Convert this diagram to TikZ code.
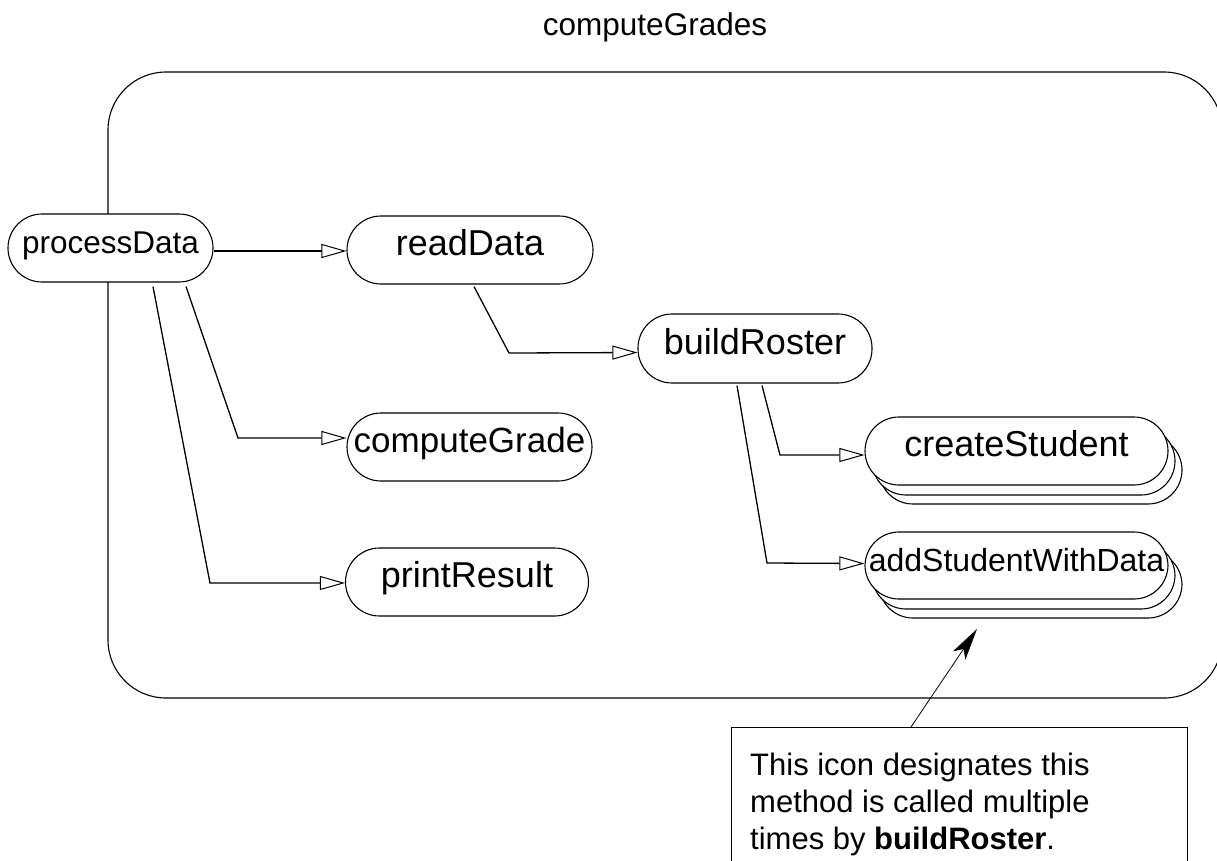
\documentclass[tikz,border=0pt]{standalone}
\usepackage{fontspec}
\setmainfont{Liberation Sans}
\usetikzlibrary{arrows.meta}

\tikzset{
  method/.style={draw, line width=1.1pt, fill=white, rounded corners=34pt,
    minimum height=68pt, inner sep=0pt, text height=11pt, text depth=0pt,
    font=\fontsize{36}{40}\selectfont},
  stackback/.style={draw, line width=1.1pt, fill=white, rounded corners=34pt,
    minimum height=68pt, minimum width=303pt, inner sep=0pt},
  conn/.style={line width=1.3pt,
    -{Triangle[length=25pt,width=14pt,fill=white,line width=1pt]}},
  pointer/.style={line width=0.8pt, -{Stealth[length=32pt,width=15pt,inset=8pt]}},
}

\begin{document}
\begin{tikzpicture}[x=1pt,y=-1pt]
\useasboundingbox (0,0) rectangle (1217,860);

% title
\node[font=\fontsize{31.5}{36}\selectfont] (title) at (655,27) {computeGrades};

% enclosing frame of computeGrades
\node[draw, line width=1.1pt, rounded corners=58pt, minimum width=1114pt,
  minimum height=626pt, inner sep=0pt] (frame) at (665,385) {};

% methods
\node[method, minimum width=205pt, font=\fontsize{31.5}{36}\selectfont] (pd) at (110.5,248) {processData};
\node[method, minimum width=246pt] (rd) at (470,250) {readData};
\node[method, minimum width=234pt, minimum height=69pt] (br) at (755,348.5) {buildRoster};
\node[method, minimum width=245pt, font=\fontsize{35}{40}\selectfont] (cg) at (469.5,447) {computeGrade};
\node[method, minimum width=243pt] (pr) at (467,582) {printResult};

% stacked icons: methods called multiple times
\node[stackback] (cs3) at (1030.5,470) {};
\node[stackback] (cs2) at (1023.5,461) {};
\node[method, minimum width=303pt] (cs) at (1016.5,451) {createStudent};
\node[stackback, minimum height=67pt] (as3) at (1030.5,584.5) {};
\node[stackback, minimum height=67pt] (as2) at (1023.5,575.5) {};
\node[method, minimum width=303pt, minimum height=67pt, font=\fontsize{32}{36}\selectfont] (as) at (1016.5,565.5) {addStudentWithData};

% calls
\draw[conn] ([yshift=-3pt]pd.east) -- ([yshift=-1pt]rd.west);
\draw[conn] ([xshift=4pt,yshift=-2pt]rd.south) -- (509,353) -- ([yshift=-4pt]br.west);
\draw[conn] ([xshift=75.5pt,yshift=-4pt]pd.south) -- (238,438) -- ([yshift=9pt]cg.west);
\draw[conn] ([xshift=42.5pt,yshift=-4pt]pd.south) -- (210,583) -- ([yshift=-1pt]pr.west);
\draw[conn] ([xshift=7pt,yshift=-2pt]br.south) -- (780,455) -- ([yshift=-4pt]cs.west);
\draw[conn] ([xshift=-18pt,yshift=-2pt]br.south) -- (767,563) -- ([yshift=2pt]as.west);

% note
\node[draw, line width=0.8pt, minimum width=456pt, minimum height=170pt,
  inner sep=0pt, anchor=north west] (note) at (731,727) {};
\node[anchor=north west, inner sep=0pt, align=left,
  font=\fontsize{31}{37}\selectfont] (notetext) at (750,753)
  {This icon designates this\\method is called multiple\\times by \textbf{buildRoster}.};
\coordinate (notefoot) at (911,727);
\coordinate (notetip) at (977,629);
\draw[pointer] (notefoot) -- (notetip);
\end{tikzpicture}
\end{document}
